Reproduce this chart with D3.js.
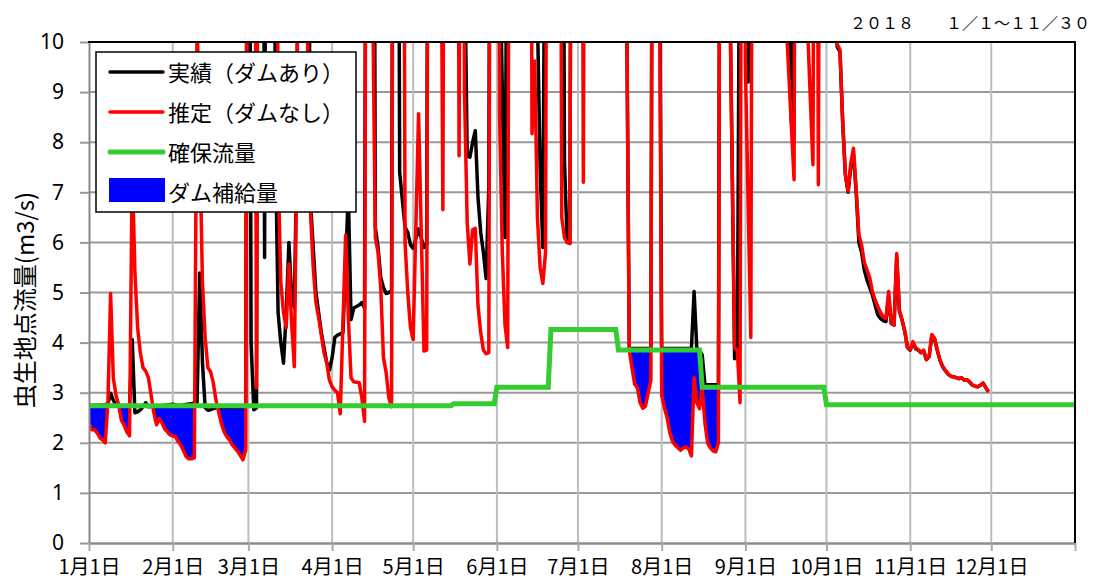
<!DOCTYPE html>
<html>
<head>
<meta charset="utf-8">
<script src="https://cdn.jsdelivr.net/npm/d3@7"></script>
<style>
  body { margin: 0; background: #fff; }
  svg { display: block; }
  text { font-family: "Noto Sans CJK JP", "Noto Sans", sans-serif; }
</style>
</head>
<body>
<div id="chart"></div>
<script>
// [day offset from 2018-01-01, flow m3/s]; anything above 10 runs off the top
const actual = [
  [0,2.74],[6,2.76],[7,2.78],[8,2.99],[9,2.85],[10,2.75],[15,2.74],[16,4.06],[17,2.6],[18,2.62],[19,2.66],
  [20,2.72],[21,2.8],[22,2.72],[27,2.74],[31,2.77],[33,2.74],[40,2.8],[41,5.39],[42,3.6],[43,2.7],[44,2.65],
  [45,2.66],[47,2.7],[58,2.72],[59,25],[60,4.0],[61,2.66],[62,2.7],[63,25],[64,25],[65,5.7],[66,25],[68,25],
  [69,8],[70,4.6],[71,4.0],[72,3.59],[73,4.6],[74,6.0],[75,4.92],[76,4.7],[77,8],[78,25],[80,25],[82,6.8],
  [84,5.0],[86,4.2],[88,3.6],[89,3.45],[90,3.7],[91,4.1],[92,4.15],[94,4.2],[96,7.0],[97,4.46],[98,4.69],
  [100,4.75],[101,4.8],[102,4.69],[103,25],[105,25],[106,6.3],[107,5.9],[108,5.3],[109,5.1],[110,4.98],
  [111,5.0],[112,5.05],[113,25],[114,25],[115,7.4],[117,6.3],[118,6.2],[119,5.95],[120,5.88],[122,6.27],
  [124,5.9],[125,5.95],[126,25],[138,25],[139,12],[140,7.72],[141,7.7],[142,8.0],[143,8.23],[144,6.9],
  [145,6.2],[146,5.8],[147,5.28],[148,7.1],[149,25],[151,25],[152,12],[154,6.1],[156,25],[165,25],[166,10.5],
  [167,7.5],[168,5.9],[170,25],[175,25],[176,7.64],[177,6.0],[178,5.98],[179,25],[198,25],[199,11],[200,3.88],
  [208,3.88],[209,25],[210,25],[212,3.88],[223,3.88],[224,5.02],[225,3.88],[226,3.85],[227,3.75],[228,3.16],
  [233,3.16],[234,25],[236,25],[237,12],[239,3.68],[240,3.75],[242,25],[243,25],[244,9.2],[245,25],[257,25],
  [258,12],[260,8.4],[262,25],[275,25],[276,10.5],[277,9.9],[278,9.8],[279,8.4],[280,7.35],[281,7.0],[282,7.5],
  [283,7.75],[284,7.0],[285,6.0],[286,5.8],[287,5.45],[288,5.25],[289,5.1],[290,4.95],[291,4.75],[292,4.55],
  [293,4.48],[294,4.44],[295,4.42],[296,4.9],[297,4.38],[298,4.35],[299,5.7],[300,4.62],[301,4.45],[302,4.22],
  [303,3.9],[304,3.85],[305,4.0],[306,3.88],[307,3.85],[308,3.8],[309,3.82],[310,3.66],[311,3.72],[312,4.14],
  [313,4.08],[314,3.85],[315,3.65],[316,3.52],[317,3.44],[318,3.37],[319,3.33],[320,3.32],[321,3.3],[322,3.28],
  [323,3.3],[324,3.25],[325,3.26],[326,3.21],[327,3.15],[328,3.13],[329,3.12],[330,3.15],[331,3.19],[332,3.1],
  [333,3.02]
];

const estimated = [
  [0,2.39],[1,2.26],[2,2.26],[3,2.2],[4,2.1],[5,2.06],[6,2.0],[7,2.8],[8,4.98],[9,3.3],[10,2.95],[11,2.75],
  [12,2.45],[13,2.35],[14,2.22],[15,2.14],[16,7.5],[17,5.4],[18,4.3],[19,3.8],[20,3.5],[21,3.43],[22,3.3],
  [23,2.95],[24,2.6],[25,2.36],[26,2.48],[27,2.4],[28,2.28],[30,2.16],[32,2.12],[33,2.02],[34,1.95],[35,1.84],
  [36,1.72],[37,1.68],[38,1.68],[39,1.7],[40,10.5],[41,8.0],[42,5.2],[43,4.1],[44,3.5],[45,3.42],[46,3.2],
  [47,2.85],[48,2.62],[49,2.38],[50,2.22],[51,2.12],[52,2.06],[53,1.96],[54,1.9],[55,1.83],[56,1.75],[57,1.66],
  [58,1.86],[59,25],[61,25],[62,3.1],[63,25],[69,25],[70,7.5],[71,5.2],[72,4.6],[73,4.3],[74,5.57],[75,4.4],
  [76,3.52],[77,8],[78,25],[80,25],[81,9],[82,6.6],[83,5.5],[84,4.8],[85,4.5],[86,4.15],[87,3.8],[88,3.6],
  [89,3.25],[90,3.12],[91,3.05],[92,3.0],[93,2.58],[95,6.15],[96,4.5],[97,3.3],[98,3.22],[100,3.2],[101,2.9],
  [102,2.43],[103,25],[105,11],[106,6.1],[107,5.8],[108,5.1],[109,3.7],[110,3.4],[111,2.9],[112,2.72],[113,25],
  [116,25],[117,6.0],[118,5.0],[119,4.3],[120,4.06],[122,8.57],[124,3.83],[125,3.85],[126,25],[129,25],
  [131,6.65],[132,25],[136,25],[137,7.73],[138,25],[139,9],[140,6.4],[141,5.57],[142,6.25],[143,6.28],
  [144,4.74],[145,4.2],[146,3.85],[147,3.78],[148,3.8],[149,25],[151,25],[152,8.5],[153,5.8],[154,4.35],
  [155,3.9],[156,25],[163,25],[164,8.17],[165,9.62],[166,6.5],[167,5.5],[168,5.18],[169,5.8],[170,25],
  [174,25],[175,6.5],[176,6.1],[177,6.0],[178,5.98],[179,25],[182,25],[183,7.2],[184,25],[198,25],[199,11],
  [200,3.85],[201,3.5],[202,3.17],[203,3.1],[204,2.8],[205,2.69],[206,2.73],[207,3.0],[208,3.25],[209,25],
  [210,25],[212,2.95],[213,2.7],[214,2.5],[215,2.2],[216,2.03],[217,1.95],[218,1.9],[219,1.85],[220,1.9],
  [221,1.92],[222,1.88],[223,1.74],[224,3.3],[225,2.8],[226,2.68],[227,3.1],[228,2.4],[229,2.0],[230,1.9],
  [231,1.84],[232,1.82],[233,2.0],[234,25],[236,25],[237,12],[239,3.9],[240,3.85],[241,2.8],[242,25],[243,9.5],
  [245,4.1],[246,25],[257,25],[258,10.5],[261,7.25],[262,25],[265,25],[266,10.3],[267,8.9],[268,7.55],[269,25],
  [270,7.15],[271,25],[275,25],[276,10.5],[277,9.95],[278,9.85],[279,8.4],[280,7.35],[281,7.02],[282,7.58],
  [283,7.88],[284,7.05],[285,6.15],[286,5.95],[287,5.6],[288,5.45],[289,5.3],[290,5.02],[291,4.85],[292,4.72],
  [293,4.6],[294,4.52],[295,4.48],[296,5.02],[297,4.38],[298,4.35],[299,5.78],[300,4.65],[301,4.45],[302,4.22],
  [303,3.9],[304,3.86],[305,4.02],[306,3.9],[307,3.86],[308,3.8],[309,3.85],[310,3.66],[311,3.72],[312,4.16],
  [313,4.09],[314,3.86],[315,3.65],[316,3.53],[317,3.45],[318,3.38],[319,3.33],[320,3.32],[321,3.3],[322,3.28],
  [323,3.3],[324,3.25],[325,3.26],[326,3.22],[327,3.15],[328,3.13],[329,3.12],[330,3.15],[331,3.19],[332,3.1],
  [333,3.02]
];

// secured flow, step changes
const secured = [
  [0,2.74],[134,2.74],[135,2.78],[150,2.78],[151,3.11],[170,3.11],[171,4.26],[195,4.26],[196,3.85],
  [226,3.85],[227,3.11],[272,3.11],[273,2.76],[365,2.76]
];

const monthLabels = ["1月1日","2月1日","3月1日","4月1日","5月1日","6月1日","7月1日","8月1日","9月1日","10月1日","11月1日","12月1日"];
const yTicks = [0,1,2,3,4,5,6,7,8,9,10];
const legendItems = ["実績（ダムあり）","推定（ダムなし）","確保流量","ダム補給量"];
const periodText = "２０１８　　１／１～１１／３０";
const yTitle = "虫生地点流量(m3/s)";

const width = 1095, height = 581;
const margin = { top: 42, right: 1075, bottom: 543, left: 89 };
const start = new Date(2018, 0, 1);
const toDate = d => d3.timeDay.offset(start, d);

const svg = d3.select("#chart").append("svg")
  .attr("width", width)
  .attr("height", height);

const x = d3.scaleTime().domain([start, new Date(2019, 0, 1)]).range([margin.left, margin.right]);
const y = d3.scaleLinear().domain([0, 10]).range([margin.bottom, margin.top]);

const defs = svg.append("defs");
defs.append("clipPath").attr("id", "plot")
  .append("rect")
  .attr("x", margin.left).attr("y", margin.top)
  .attr("width", margin.right - margin.left).attr("height", margin.bottom - margin.top);

// region above the estimated line -> blue only where estimated < secured
const aboveRed = d3.area()
  .x(d => x(toDate(d[0])))
  .y0(0)
  .y1(d => y(d[1]));
defs.append("clipPath").attr("id", "above-red")
  .append("path")
  .attr("d", aboveRed(estimated));

const months = d3.timeMonth.range(start, new Date(2019, 0, 2));

// grid
svg.append("g")
  .selectAll("line")
  .data(yTicks.slice(1, -1))
  .enter()
  .append("line")
  .attr("x1", margin.left).attr("x2", margin.right)
  .attr("y1", d => y(d)).attr("y2", d => y(d))
  .style("stroke", "#999")
  .style("stroke-width", 2)

svg.append("g")
  .selectAll("line")
  .data(months.slice(1, -1))
  .enter()
  .append("line")
  .attr("x1", d => x(d)).attr("x2", d => x(d))
  .attr("y1", margin.top).attr("y2", margin.bottom)
  .style("stroke", "#bdbdbd")
  .style("stroke-width", 2)

const plot = svg.append("g").attr("clip-path", "url(#plot)");

const supplyArea = d3.area()
  .x(d => x(toDate(d[0])))
  .y0(y(0))
  .y1(d => y(d[1]));

plot.append("path")
  .attr("d", supplyArea(secured))
  .attr("clip-path", "url(#above-red)")
  .style("fill", "#0000ff")

const line = d3.line()
  .x(d => x(toDate(d[0])))
  .y(d => y(d[1]));

plot.append("path")
  .attr("d", line(actual))
  .style("fill", "none")
  .style("stroke", "#000")
  .style("stroke-width", 3.5)
  .style("stroke-linejoin", "round")

plot.append("path")
  .attr("d", line(estimated))
  .style("fill", "none")
  .style("stroke", "#ff0000")
  .style("stroke-width", 3.5)
  .style("stroke-linejoin", "round")

plot.append("path")
  .attr("d", line(secured))
  .style("fill", "none")
  .style("stroke", "#33cc33")
  .style("stroke-width", 5)

// axes
const yAxis = svg.append("g")
  .attr("transform", `translate(${margin.left},0)`)
  .call(d3.axisLeft(y).tickValues(yTicks).tickSize(9).tickSizeOuter(0).tickPadding(16));
yAxis.select(".domain").style("stroke", "#888").style("stroke-width", 2);
yAxis.selectAll(".tick line").style("stroke", "#999").style("stroke-width", 2);
yAxis.selectAll(".tick text")
  .style("font-size", "21px")
  .style("fill", "#000")
  .style("font-family", "\"Noto Sans\", sans-serif");

const xAxis = svg.append("g")
  .attr("transform", `translate(0,${margin.bottom})`)
  .call(d3.axisBottom(x).tickValues(months).tickSize(8).tickSizeOuter(0).tickPadding(9)
    .tickFormat((d, i) => monthLabels[i] || ""));
xAxis.select(".domain").style("stroke", "#8c8c8c").style("stroke-width", 2.5);
xAxis.selectAll(".tick line").style("stroke", "#aaa").style("stroke-width", 2);
xAxis.selectAll(".tick text").style("font-size", "20px").style("fill", "#000");

// top and right border
svg.append("line")
  .attr("x1", margin.left - 1).attr("x2", margin.right + 1).attr("y1", margin.top).attr("y2", margin.top)
  .style("stroke", "#000").style("stroke-width", 2)
svg.append("line")
  .attr("x1", margin.right).attr("x2", margin.right).attr("y1", margin.top).attr("y2", margin.bottom)
  .style("stroke", "#000").style("stroke-width", 2)

// legend
const legend = svg.append("g");
legend.append("rect")
  .attr("x", 96).attr("y", 52).attr("width", 260).attr("height", 160)
  .style("fill", "#fff").style("stroke", "#000").style("stroke-width", 1.5)

const swatchColors = ["#000", "#ff0000", "#33cc33"];
const swatchWidths = [3.5, 3.5, 5];
legendItems.forEach((label, i) => {
  const cy = 72 + i * 40;
  if (i < 3) {
    legend.append("line")
      .attr("x1", 110).attr("x2", 163).attr("y1", cy).attr("y2", cy)
      .style("stroke", swatchColors[i])
      .style("stroke-width", swatchWidths[i])
      .style("stroke-linecap", "round")
  } else {
    legend.append("rect")
      .attr("x", 109).attr("y", 178).attr("width", 56).attr("height", 24)
      .style("fill", "#0000ff")
  }
  legend.append("text")
    .attr("x", 168).attr("y", cy - 1)
    .attr("dominant-baseline", "central")
    .style("font-size", "22px")
    .text(label)
});

// texts
svg.append("text")
  .attr("x", 1090).attr("y", 22)
  .attr("text-anchor", "end")
  .attr("dominant-baseline", "central")
  .style("font-size", "16px")
  .text(periodText)

svg.append("text")
  .attr("transform", "translate(23,300) rotate(-90)")
  .attr("text-anchor", "middle")
  .attr("dominant-baseline", "central")
  .style("font-size", "24px")
  .text(yTitle)
</script>
</body>
</html>
